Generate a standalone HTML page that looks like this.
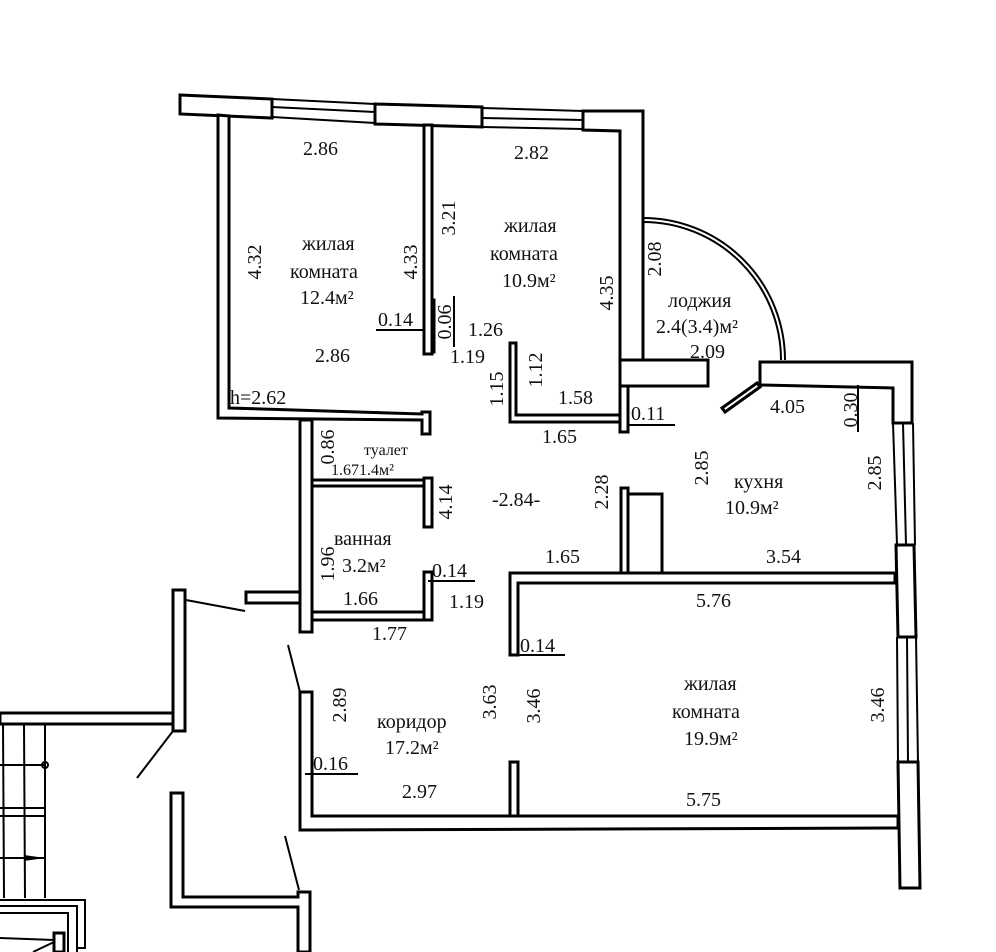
<!DOCTYPE html>
<html><head><meta charset="utf-8"><style>
html,body{margin:0;padding:0;background:#fff}
svg{display:block}
text{font-family:"Liberation Serif",serif;font-size:20px;fill:#111}
.w{fill:#fff;stroke:#000;stroke-width:3}
.l{stroke:#000;stroke-width:2;fill:none}
</style></head><body>
<svg width="996" height="952" viewBox="0 0 996 952">
<polygon class="w" points="180,95 272,99 272,118 180,114"/>
<polygon class="w" points="375,104 482,107 482,127 375,124"/>
<polygon class="w" points="583,111 643,111 643,360 620,360 620,131 583,130"/>
<line class="l" x1="272" y1="99" x2="375" y2="104"/><line class="l" x1="272" y1="107" x2="375" y2="112"/><line class="l" x1="272" y1="117" x2="375" y2="123"/>
<line class="l" x1="482" y1="108" x2="583" y2="111"/><line class="l" x1="482" y1="118" x2="583" y2="120"/><line class="l" x1="482" y1="127" x2="583" y2="129"/>
<polygon class="w" points="218,115 229,116 229,408 422,414 422,412 430,412 430,434 422,434 422,420 218,418"/>
<rect class="w" x="424" y="125" width="8" height="229"/>
<rect class="w" x="432" y="300" width="2" height="52"/>
<polygon class="w" points="510,343 516,343 516,415 620,415 620,422 510,422"/>
<rect class="w" x="620" y="386" width="8" height="46"/>
<rect class="w" x="620" y="360" width="88" height="26"/>
<path class="l" d="M643,218 A142,142 0 0 1 785,360"/>
<path class="l" d="M643,222 A138,138 0 0 1 781,360"/>
<polygon class="w" points="760,362 912,362 912,423 893,423 893,388 760,385"/>
<polygon class="w" points="722,408 757,383 760,387 725,412"/>
<line class="l" x1="893" y1="423" x2="897" y2="545"/><line class="l" x1="903" y1="423" x2="906" y2="545"/><line class="l" x1="913" y1="423" x2="915" y2="545"/>
<polygon class="w" points="896,545 914,545 916,637 898,637"/>
<line class="l" x1="897" y1="637" x2="898" y2="762"/><line class="l" x1="907" y1="637" x2="908" y2="762"/><line class="l" x1="916" y1="637" x2="918" y2="762"/>
<polygon class="w" points="898,762 918,762 920,888 900,888"/>
<rect class="w" x="621" y="488" width="7" height="86"/>
<rect class="w" x="628" y="494" width="34" height="80"/>
<polygon class="w" points="510,573 895,573 895,583 518,583 518,655 510,655"/>
<rect class="w" x="510" y="762" width="8" height="54"/>
<polygon class="w" points="300,692 312,692 312,816 898,816 898,828 312,830 310,830 300,830"/>
<rect class="w" x="300" y="420" width="12" height="212"/>
<rect class="w" x="312" y="480" width="113" height="6"/>
<rect class="w" x="424" y="478" width="8" height="49"/>
<rect class="w" x="312" y="612" width="112" height="8"/>
<rect class="w" x="424" y="572" width="8" height="48"/>
<rect class="w" x="246" y="592" width="54" height="11"/>
<line class="l" x1="288" y1="645" x2="300" y2="692"/>
<line class="l" x1="285" y1="836" x2="299" y2="890"/>
<line class="l" x1="186" y1="600" x2="245" y2="611"/>
<line class="l" x1="173" y1="731" x2="137" y2="778"/>
<rect class="w" x="173" y="590" width="12" height="141"/>
<polygon class="w" points="0,713 173,713 173,724 0,724"/>
<polygon class="w" points="171,793 183,793 183,897 298,897 298,892 310,892 310,952 298,952 298,907 171,907"/>
<line class="l" x1="3" y1="724" x2="4" y2="898"/><line class="l" x1="24" y1="724" x2="25" y2="898"/><line class="l" x1="45" y1="724" x2="45" y2="898"/>
<line class="l" x1="0" y1="765" x2="45" y2="765"/><circle cx="45" cy="765" r="3" class="l"/>
<line class="l" x1="0" y1="808" x2="45" y2="808"/><line class="l" x1="0" y1="816" x2="45" y2="816"/>
<line class="l" x1="0" y1="858" x2="45" y2="858"/><polygon points="24,855 45,858 24,861"/>
<polyline class="l" points="0,900 85,900 85,948 76,948"/>
<polyline class="l" points="0,906 77,906 77,952"/>
<polyline class="l" points="0,913 68,913 68,952"/>
<rect class="w" x="54" y="933" width="10" height="19"/>
<line class="l" x1="33" y1="952" x2="54" y2="942"/>
<line class="l" x1="0" y1="938" x2="54" y2="940"/>
<text x="303" y="155">2.86</text>
<text x="514" y="159">2.82</text>
<text x="302" y="250">жилая</text>
<text x="290" y="278">комната</text>
<text x="300" y="304">12.4м²</text>
<text x="504" y="232">жилая</text>
<text x="490" y="260">комната</text>
<text x="502" y="287">10.9м²</text>
<text x="315" y="362">2.86</text>
<text x="378" y="326">0.14</text><line class="l" x1="376" y1="330" x2="424" y2="330"/>
<text x="468" y="336">1.26</text>
<text x="450" y="363">1.19</text>
<text x="558" y="404">1.58</text>
<text x="542" y="443">1.65</text>
<text x="631" y="420">0.11</text><line class="l" x1="628" y1="425" x2="675" y2="425"/>
<text x="230" y="404">h=2.62</text>
<text x="668" y="307">лоджия</text>
<text x="656" y="333">2.4(3.4)м²</text>
<text x="690" y="358">2.09</text>
<text x="770" y="413">4.05</text>
<text x="734" y="488">кухня</text>
<text x="725" y="514">10.9м²</text>
<text x="766" y="563">3.54</text>
<text x="545" y="563">1.65</text>
<text x="492" y="506">-2.84-</text>
<text x="696" y="607">5.76</text>
<text x="684" y="690">жилая</text>
<text x="672" y="718">комната</text>
<text x="684" y="745">19.9м²</text>
<text x="686" y="806">5.75</text>
<text x="364" y="455" style="font-size:16px">туалет</text>
<text x="331" y="475" style="font-size:16px">1.671.4м²</text>
<text x="334" y="545">ванная</text>
<text x="342" y="572">3.2м²</text>
<text x="343" y="605">1.66</text>
<text x="372" y="640">1.77</text>
<text x="432" y="577">0.14</text><line class="l" x1="428" y1="581" x2="475" y2="581"/>
<text x="449" y="608">1.19</text>
<text x="520" y="652">0.14</text><line class="l" x1="515" y1="655" x2="565" y2="655"/>
<text x="377" y="728">коридор</text>
<text x="385" y="754">17.2м²</text>
<text x="313" y="770">0.16</text><line class="l" x1="305" y1="774" x2="358" y2="774"/>
<text x="402" y="798">2.97</text>
<line class="l" x1="454" y1="296" x2="454" y2="347"/>
<g transform="translate(261,262) rotate(-90)"><text text-anchor="middle">4.32</text></g>
<g transform="translate(417,262) rotate(-90)"><text text-anchor="middle">4.33</text></g>
<g transform="translate(455,218) rotate(-90)"><text text-anchor="middle">3.21</text></g>
<g transform="translate(451,322) rotate(-90)"><text text-anchor="middle">0.06</text></g>
<g transform="translate(613,293) rotate(-90)"><text text-anchor="middle">4.35</text></g>
<g transform="translate(661,259) rotate(-90)"><text text-anchor="middle">2.08</text></g>
<g transform="translate(503,389) rotate(-90)"><text text-anchor="middle">1.15</text></g>
<g transform="translate(542,370) rotate(-90)"><text text-anchor="middle">1.12</text></g>
<g transform="translate(857,410) rotate(-90)"><text text-anchor="middle">0.30</text></g>
<line class="l" x1="858" y1="385" x2="858" y2="432"/>
<g transform="translate(708,468) rotate(-90)"><text text-anchor="middle">2.85</text></g>
<g transform="translate(881,473) rotate(-90)"><text text-anchor="middle">2.85</text></g>
<g transform="translate(608,492) rotate(-90)"><text text-anchor="middle">2.28</text></g>
<g transform="translate(334,447) rotate(-90)"><text text-anchor="middle">0.86</text></g>
<g transform="translate(334,564) rotate(-90)"><text text-anchor="middle">1.96</text></g>
<g transform="translate(452,502) rotate(-90)"><text text-anchor="middle">4.14</text></g>
<g transform="translate(346,705) rotate(-90)"><text text-anchor="middle">2.89</text></g>
<g transform="translate(496,702) rotate(-90)"><text text-anchor="middle">3.63</text></g>
<g transform="translate(540,706) rotate(-90)"><text text-anchor="middle">3.46</text></g>
<g transform="translate(884,705) rotate(-90)"><text text-anchor="middle">3.46</text></g>
</svg>
</body></html>
